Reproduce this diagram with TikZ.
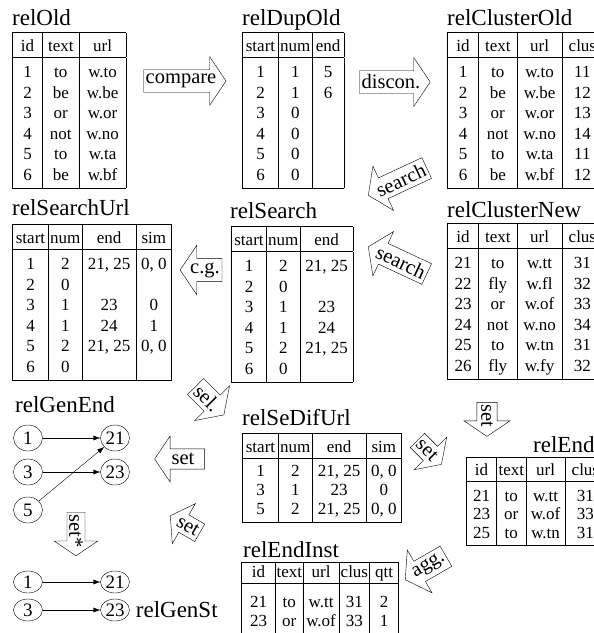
\documentclass[tikz,border=0pt]{standalone}
\usepackage{fontspec}
\setmainfont{Liberation Serif}
\usepackage{array}
\usetikzlibrary{shapes.arrows,shapes.geometric,positioning,arrows.meta}

% struts for the table rows
\newcommand{\hdst}{\rule[-5pt]{0pt}{23pt}}
\newcommand{\topst}{\rule{0pt}{20pt}}
\newcommand{\botst}{\rule[-8pt]{0pt}{8pt}}
\setlength{\tabcolsep}{0pt}
\setlength{\arrayrulewidth}{0.8pt}

\tikzset{
  ttl/.style={font=\fontsize{23}{23}\selectfont, inner sep=0pt, anchor=base west},
  tbl/.style={inner sep=0pt, anchor=north west, font=\fontsize{17}{20.5}\selectfont},
  op/.style={single arrow, draw, thin, font=\fontsize{20.5}{20.5}\selectfont,
    inner xsep=2pt, inner ysep=4pt, single arrow head extend=13pt,
    single arrow tip angle=112},
  el/.style={ellipse, draw, thin, inner sep=0pt, minimum width=29pt,
    minimum height=26pt, font=\fontsize{19}{19}\selectfont},
  lnk/.style={-{Latex[length=7pt,width=5pt]}}
}

\begin{document}
\begin{tikzpicture}[x=1pt,y=-1pt]
\useasboundingbox (0,0) rectangle (594,633);
\clip (0,0) rectangle (594,633);

% old relation and its duplicates
\node[ttl] (tOld) at (12,25) {relOld};
\node[tbl] (relOld) at (12,32) {\begin{tabular}{|w{c}{29pt}|w{c}{36pt}|w{c}{46pt}|}\hline
\hdst id & text & url\\\hline
\topst 1 & to & w.to\\
2 & be & w.be\\
3 & or & w.or\\
4 & not & w.no\\
5 & to & w.ta\\
\botst 6 & be & w.bf\\\hline
\end{tabular}};

\node[op] (compare) at (181,81) {compare};

\node[ttl] (tDupOld) at (242,25) {relDupOld};
\node[tbl] (relDupOld) at (242,32) {\begin{tabular}{|w{c}{35pt}|w{c}{33pt}|w{c}{31pt}|}\hline
\hdst start & num & end\\\hline
\topst 1 & 1 & 5\\
2 & 1 & 6\\
3 & 0 & \\
4 & 0 & \\
5 & 0 & \\
\botst 6 & 0 & \\\hline
\end{tabular}};

\node[op] (discon) at (391,82) {discon.};

\node[ttl] (tClusterOld) at (447,25) {relClusterOld};
\node[tbl] (relClusterOld) at (447,32) {\begin{tabular}{|w{c}{30pt}|w{c}{38pt}|w{c}{44pt}|w{c}{40pt}|}\hline
\hdst id & text & url & clus\\\hline
\topst 1 & to & w.to & 11\\
2 & be & w.be & 12\\
3 & or & w.or & 13\\
4 & not & w.no & 14\\
5 & to & w.ta & 11\\
\botst 6 & be & w.bf & 12\\\hline
\end{tabular}};

% searching the new clusters
\node[op, rotate=25, shape border rotate=180] (search1) at (401,180) {search};
\node[op, rotate=-25, shape border rotate=180] (search2) at (401,262) {search};

\node[ttl] (tClusterNew) at (447,217) {relClusterNew};
\node[tbl] (relClusterNew) at (447,223) {\begin{tabular}{|w{c}{30pt}|w{c}{38pt}|w{c}{44pt}|w{c}{40pt}|}\hline
\hdst id & text & url & clus\\\hline
\topst 21 & to & w.tt & 31\\
22 & fly & w.fl & 32\\
23 & or & w.of & 33\\
24 & not & w.no & 34\\
25 & to & w.tn & 31\\
\botst 26 & fly & w.fy & 32\\\hline
\end{tabular}};

\node[ttl] (tSearch) at (230,218) {relSearch};
\node[tbl] (relSearch) at (231,226) {\begin{tabular}{|w{c}{34pt}|w{c}{33pt}|w{c}{52pt}|}\hline
\hdst start & num & end\\\hline
\topst 1 & 2 & 21, 25\\
2 & 0 & \\
3 & 1 & 23\\
4 & 1 & 24\\
5 & 2 & 21, 25\\
\botst 6 & 0 & \\\hline
\end{tabular}};

\node[op, shape border rotate=180] (cg) at (205,270) {c.g.};

\node[ttl] (tSearchUrl) at (12,215) {relSearchUrl};
\node[tbl] (relSearchUrl) at (12,224) {\begin{tabular}{|w{c}{35pt}|w{c}{33pt}|w{c}{53pt}|w{c}{35pt}|}\hline
\hdst start & num & end & sim\\\hline
\topst 1 & 2 & 21, 25 & 0, 0\\
2 & 0 & & \\
3 & 1 & 23 & 0\\
4 & 1 & 24 & 1\\
5 & 2 & 21, 25 & 0, 0\\
\botst 6 & 0 & & \\\hline
\end{tabular}};

% selection and result
\node[op, rotate=-45] (sel) at (207,398) {sel.};

\node[ttl] (tSeDifUrl) at (242,425) {relSeDifUrl};
\node[tbl, font=\fontsize{17}{19}\selectfont] (relSeDifUrl) at (242,433) {\begin{tabular}{|w{c}{35pt}|w{c}{33pt}|w{c}{53pt}|w{c}{35pt}|}\hline
\rule[-5pt]{0pt}{23pt}start & num & end & sim\\\hline
\rule{0pt}{18pt}1 & 2 & 21, 25 & 0, 0\\
3 & 1 & 23 & 0\\
\rule[-7pt]{0pt}{7pt}5 & 2 & 21, 25 & 0, 0\\\hline
\end{tabular}};

\node[op, rotate=-90] (setEnd) at (487,416) {set};
\node[op, rotate=-45] (setDif) at (427,450) {set};

\node[ttl] (tEnd) at (533,452) {relEnd};
\node[tbl, font=\fontsize{17}{18.5}\selectfont] (relEnd) at (466,457) {\begin{tabular}{|w{c}{29pt}|w{c}{29pt}|w{c}{38pt}|w{c}{40pt}|}\hline
\rule[-5pt]{0pt}{22pt}id & text & url & clus\\\hline
\rule{0pt}{20pt}21 & to & w.tt & 31\\
23 & or & w.of & 33\\
\rule[-7pt]{0pt}{7pt}25 & to & w.tn & 31\\\hline
\end{tabular}};

\node[op, rotate=30, shape border rotate=180] (agg) at (429,566) {agg.};

\node[ttl] (tEndInst) at (243,557) {relEndInst};
\node[tbl, font=\fontsize{17}{19}\selectfont] (relEndInst) at (241,562) {\begin{tabular}{|w{c}{33pt}|w{c}{27pt}|w{c}{35pt}|w{c}{30pt}|w{c}{28pt}|}\hline
\rule[-4pt]{0pt}{18pt}id & text & url & clus & qtt\\\hline
\rule{0pt}{24pt}21 & to & w.tt & 31 & 2\\
\rule[-6pt]{0pt}{6pt}23 & or & w.of & 33 & 1\\\hline
\end{tabular}};

% generated ends
\node[op, shape border rotate=180, minimum height=50pt] (setGen) at (183,459) {set};
\node[op, rotate=-30, shape border rotate=180] (setInst) at (188,526) {set};

\node[ttl] (tGenEnd) at (15,412) {relGenEnd};
\node[el] (g1) at (28,438) {1};
\node[el] (g21) at (115,438) {21};
\node[el] (g3) at (28,472) {3};
\node[el] (g23) at (115,472) {23};
\node[el] (g5) at (28,510) {5};
\draw[lnk] (g1) -- (g21);
\draw[lnk] (g3) -- (g23);
\draw[lnk] (g5) -- (g21);

\node[op, rotate=-90, inner ysep=2pt] (setStar) at (76,531) {set*};

\node[el, minimum height=22pt] (s1) at (28,582) {1};
\node[el, minimum height=22pt] (s21) at (115,582) {21};
\node[el, minimum height=22pt] (s3) at (28,610) {3};
\node[el, minimum height=22pt] (s23) at (115,610) {23};
\draw[lnk] (s1) -- (s21);
\draw[lnk] (s3) -- (s23);
\node[ttl, anchor=west, right=6pt of s23] (tGenSt) {relGenSt};
\end{tikzpicture}
\end{document}
